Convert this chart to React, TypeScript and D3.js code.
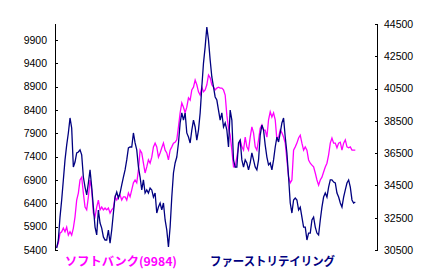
import React from 'react';
import * as d3 from 'd3';

const softbankLabel = 'ソフトバンク(9984)';
const fastRetailingLabel = 'ファーストリテイリング';

const leftTicks = [5400, 5900, 6400, 6900, 7400, 7900, 8400, 8900, 9400, 9900];
const rightTicks = [30500, 32500, 34500, 36500, 38500, 40500, 42500, 44500];

const softbank = [
  5460, 5550, 5760, 5790, 5870, 5790, 5890, 5720, 5790, 5720,
  5870, 6110, 6470, 6620, 6900, 6960, 6620, 6320, 6260, 6540,
  6900, 6690, 6190, 6110, 6320, 6470, 6260, 6320, 6260, 6300,
  6260, 6300, 6190, 6260, 6300, 6540, 6470, 6540, 6580, 6470,
  6540, 6540, 6470, 6620, 6540, 6690, 6840, 6900, 6840, 7110,
  7540, 7480, 7260, 7050, 7180, 7330, 7260, 7390, 7610, 7690,
  7610, 7390, 7480, 7590, 7690, 7540, 7480, 7330, 7540, 7610,
  7690, 7710, 7760, 8040, 8340, 8550, 8460, 8340, 8460, 8660,
  8610, 8830, 8890, 9040, 8940, 8790, 8720, 8890, 8790, 8830,
  8940, 9150, 9090, 8940, 8890, 8830, 8870, 8890, 8870, 8870,
  8830, 8720, 8290, 8010, 7860, 7540, 7180, 7180, 7390, 7610,
  7760, 7610, 7540, 7820, 7610, 7540, 7820, 8040, 7910, 7610,
  7540, 7760, 8010, 8080, 7970, 7970, 7820, 8190, 8360, 8250,
  8340, 8190, 7760, 7820, 7970, 7910, 7820, 7690, 7330, 6960,
  6840, 6900, 7540, 7610, 7690, 7800, 7860, 7690, 7540, 7610,
  7540, 7330, 7260, 7220, 7180, 7050, 6900, 6790, 6900, 6960,
  7070, 7180, 7260, 7440, 7690, 7800, 7690, 7690, 7590, 7690,
  7710, 7540, 7690, 7760, 7610, 7590, 7610, 7540, 7540, 7540,
];

const fastRetailing = [
  30620, 31120, 32540, 33600, 34840, 36080, 37000, 37750, 38680, 38060,
  35640, 35950, 36510, 36570, 36700, 36390, 35020, 34400, 33910, 34650,
  35460, 34400, 33160, 31920, 31430, 32980, 32170, 31860, 31310, 31120,
  31120, 31740, 30930, 31740, 32790, 33780, 34090, 33720, 34030, 34530,
  35020, 35460, 36080, 36820, 36880, 36880, 37750, 37130, 36700, 35640,
  35020, 34220, 34840, 34030, 34220, 34030, 34340, 34220, 33780, 34030,
  32790, 33160, 33410, 32980, 33410, 32360, 31740, 30690, 31920, 33780,
  35270, 35890, 36260, 37130, 38370, 38990, 38550, 38990, 37750, 37500,
  37130, 37930, 38550, 38120, 37310, 37930, 38990, 40600, 42080, 43080,
  44310, 43510, 42270, 41220, 40600, 39980, 39790, 39170, 38550, 38990,
  38120, 38370, 37930, 36880, 39170, 38550, 36080, 35640, 35640, 37130,
  37310, 36080, 35640, 36080, 35890, 35460, 35890, 36510, 36080, 35640,
  35460, 36080, 37620, 38240, 37930, 37000, 36260, 35770, 35890, 35460,
  36080, 36880, 37500, 37190, 37750, 38370, 38680, 37500, 36510, 35020,
  33410, 32790, 33600, 33720, 33600, 32980, 33160, 32540, 31920, 31920,
  31120, 31550, 31550, 32360, 32540, 31920, 31550, 31430, 32360, 33160,
  33780, 34030, 33780, 34400, 34840, 34840, 34710, 34650, 34030, 33780,
  33410, 33160, 33780, 34220, 34650, 34840, 34400, 33600, 33410, 33470,
];

const slotCount = 193;
const leftDomain = [5400, 10243];
const rightDomain = [30500, 44500];

const W = 432;
const H = 274;
const plotLeft = 55;
const plotRight = 377;
const plotTop = 24;
const plotBottom = 250;

const font = '"Liberation Sans", Arial, sans-serif';
const jpFont = '"Noto Sans CJK JP", "Noto Sans", sans-serif';

export default function App() {
  const x = d3.scaleLinear().domain([0, slotCount]).range([plotLeft, plotRight]);
  const yL = d3.scaleLinear().domain(leftDomain).range([plotBottom, plotTop]);
  const yR = d3.scaleLinear().domain(rightDomain).range([plotBottom, plotTop]);

  const lineL = d3
    .line<number>()
    .x((_, i) => x(i + 1))
    .y((d) => yL(d));
  const lineR = d3
    .line<number>()
    .x((_, i) => x(i + 1))
    .y((d) => yR(d));

  return (
    <svg
      width={W}
      height={H}
      style={{ position: 'absolute', left: 0, top: 0, background: '#fff' }}
    >
      <rect x={0} y={0} width={W} height={H} fill="#fff" />
      {/* left axis */}
      <line x1={plotLeft + 0.5} x2={plotLeft + 0.5} y1={plotTop} y2={plotBottom + 0.5} stroke="#000" strokeWidth={1} shapeRendering="crispEdges" />
      {leftTicks.map((t) => (
        <g key={'l' + t}>
          <line x1={plotLeft} x2={plotLeft + 3} y1={Math.round(yL(t)) + 0.5} y2={Math.round(yL(t)) + 0.5} stroke="#000" shapeRendering="crispEdges" />
          <text x={47} y={yL(t) + 3.8} textAnchor="end" fontFamily={font} fontSize={10.5} fill="#000">
            {t}
          </text>
        </g>
      ))}
      {/* right axis */}
      <line x1={plotRight + 0.5} x2={plotRight + 0.5} y1={plotTop} y2={plotBottom + 0.5} stroke="#000" strokeWidth={1} shapeRendering="crispEdges" />
      {rightTicks.map((t) => (
        <g key={'r' + t}>
          <line x1={plotRight - 2} x2={plotRight + 1} y1={Math.round(yR(t)) + 0.5} y2={Math.round(yR(t)) + 0.5} stroke="#000" shapeRendering="crispEdges" />
          <text x={384} y={yR(t) + 3.8} textAnchor="start" fontFamily={font} fontSize={10.5} fill="#000">
            {t}
          </text>
        </g>
      ))}
      {/* series */}
      <path d={lineL(softbank) || ''} fill="none" stroke="#FF00FF" strokeWidth={1.3} strokeLinejoin="miter" />
      <path d={lineR(fastRetailing) || ''} fill="none" stroke="#000080" strokeWidth={1.3} strokeLinejoin="miter" />
      {/* legend labels */}
      <text x={65} y={266} fontFamily={jpFont} fontWeight="bold" fontSize={12} fill="#FF00FF" textLength={112} lengthAdjust="spacingAndGlyphs">
        {softbankLabel}
      </text>
      <text x={210} y={266} fontFamily={jpFont} fontWeight="bold" fontSize={12} fill="#000080" textLength={125} lengthAdjust="spacingAndGlyphs">
        {fastRetailingLabel}
      </text>
    </svg>
  );
}
